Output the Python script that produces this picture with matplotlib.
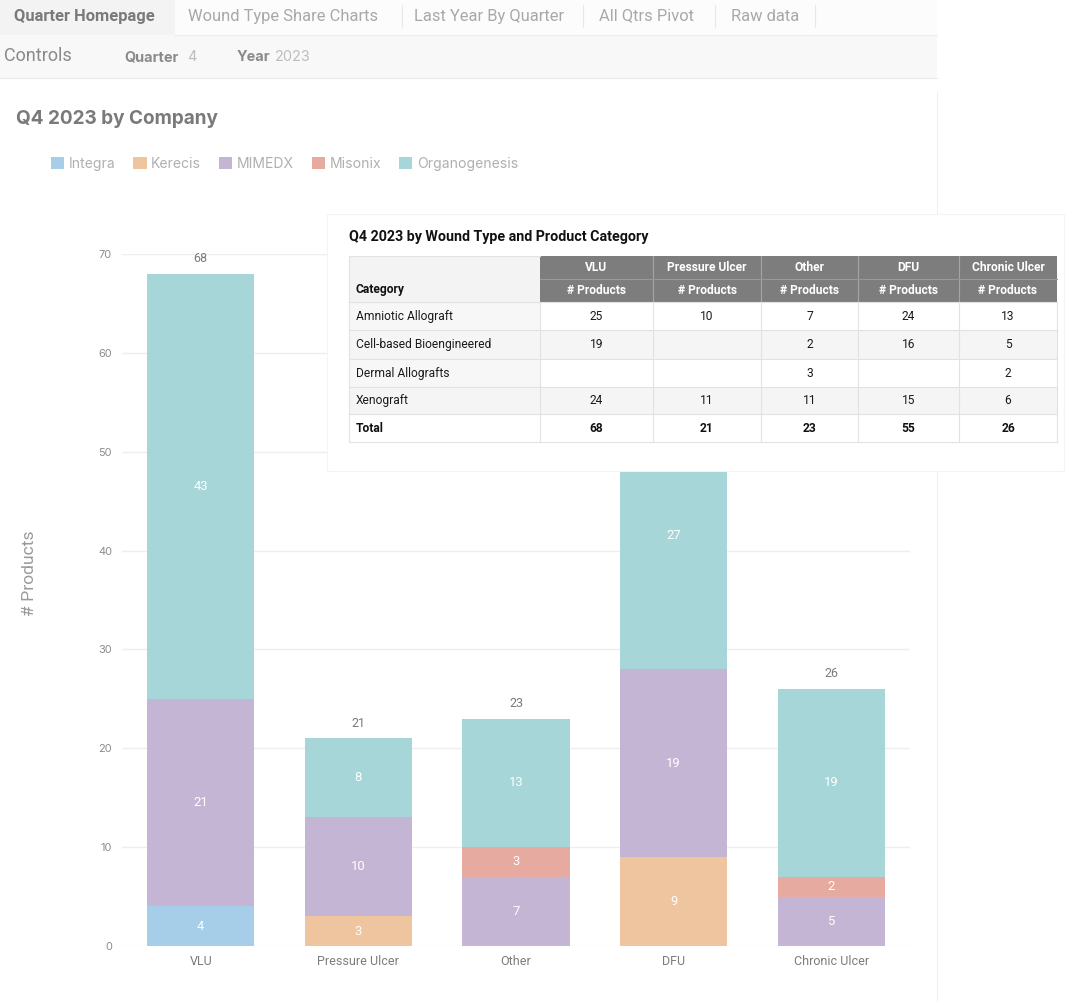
import matplotlib
matplotlib.use('Agg')
import matplotlib.pyplot as plt
from matplotlib.patches import Rectangle, Patch
import numpy as np

W, H = 1082, 1005

# ---------------- data ----------------
wound_types = ['VLU', 'Pressure Ulcer', 'Other', 'DFU', 'Chronic Ulcer']
companies = ['Integra', 'Kerecis', 'MIMEDX', 'Misonix', 'Organogenesis']
integra = [4, 0, 0, 0, 0]
kerecis = [0, 3, 0, 9, 0]
mimedx = [21, 10, 7, 19, 5]
misonix = [0, 0, 3, 0, 2]
organogenesis = [43, 8, 13, 27, 19]
company_colors = ['#a6cee9', '#eec59e', '#c5b5d4', '#e7aaa0', '#a7d6d8']
y_ticks = [0, 10, 20, 30, 40, 50, 60, 70]

table_categories = ['Amniotic Allograft', 'Cell-based Bioengineered', 'Dermal Allografts', 'Xenograft']
amniotic = [25, 10, 7, 24, 13]
cell_based = [19, None, 2, 16, 5]
dermal = [None, None, 3, None, 2]
xenograft = [24, 11, 11, 15, 6]
table_totals = [68, 21, 23, 55, 26]

tabs = ['Quarter Homepage', 'Wound Type Share Charts', 'Last Year By Quarter', 'All Qtrs Pivot', 'Raw data']

# ---------------- figure ----------------
fig = plt.figure(figsize=(W / 100, H / 100), dpi=100)
fig.patch.set_facecolor('white')

def px_axes(z):
    a = fig.add_axes([0, 0, 1, 1])
    a.set_xlim(0, W)
    a.set_ylim(H, 0)
    a.axis('off')
    a.set_zorder(z)
    a.patch.set_alpha(0)
    return a

bg = px_axes(0)
PT = 0.72  # px -> pt

# top tab bar
bg.add_patch(Rectangle((0, 0), 937, 35, facecolor='#fcfcfc', edgecolor='none'))
bg.add_patch(Rectangle((0, 0), 175, 35, facecolor='#f3f3f3', edgecolor='none'))
bg.plot([175, 937], [35, 35], color='#eeeeee', lw=0.8)
tab_x = [14, 188, 414, 599, 731]
for i, (t, xx) in enumerate(zip(tabs, tab_x)):
    bg.text(xx, 16, t, fontsize=16.5 * PT, family='Roboto',
            fontweight='bold' if i == 0 else 'normal',
            color='#7a7a7a' if i == 0 else '#a8a8a8', va='center', ha='left')
for sx in [402, 583, 715, 815]:
    bg.plot([sx, sx], [5, 27], color='#e8e8e8', lw=0.8)

# controls row
bg.add_patch(Rectangle((0, 35), 937, 43, facecolor='#f8f8f8', edgecolor='none'))
bg.plot([0, 937], [78, 78], color='#ebebeb', lw=0.8)
bg.text(4, 56, 'Controls', fontsize=18 * PT, family='Roboto', color='#8a8a8a', va='center')
bg.text(124, 57, 'Quarter', fontsize=14.5 * PT, family='Inter', fontweight='bold', color='#8a8a8a', va='center')
bg.text(187, 57, '4', fontsize=14.5 * PT, family='Inter', color='#bdbdbd', va='center')
bg.text(237, 57, 'Year', fontsize=14.5 * PT, family='Inter', fontweight='bold', color='#8a8a8a', va='center')
bg.text(275, 57, '2023', fontsize=14.5 * PT, family='Inter', color='#bdbdbd', va='center')

# card border
bg.plot([937, 937], [92, 1000], color='#f0f0f0', lw=0.8)

# chart title
bg.text(16, 119, 'Q4 2023 by Company', fontsize=19 * PT, family='Inter', fontweight='bold',
        color='#7a7a7a', va='center')

# ---------------- bar chart ----------------
ax = fig.add_axes([122 / W, (H - 946) / H, 788 / W, 692 / H])
ax.set_zorder(1)
ax.patch.set_alpha(0)
x = np.arange(len(wound_types))
bottom = np.zeros(len(wound_types))
handles = []
for name, vals, col in zip(companies, [integra, kerecis, mimedx, misonix, organogenesis], company_colors):
    vals = np.array(vals, dtype=float)
    bars = ax.bar(x, vals, 0.68, bottom=bottom, color=col, label=name, zorder=2)
    ax.bar_label(bars, labels=[str(int(v)) if v > 0 else '' for v in vals],
                 label_type='center', color='white', fontsize=13 * PT, family='Roboto')
    handles.append(Patch(facecolor=col, edgecolor='none'))
    bottom += vals
for xi, t in zip(x, bottom):
    ax.annotate(str(int(t)), (xi, t), xytext=(0, 15 * PT), textcoords='offset points',
                ha='center', va='center', color='#7a7a7a', fontsize=12.5 * PT, family='Roboto')

ax.set_xlim(-0.5, 4.5)
ax.set_ylim(0, 70)
ax.set_yticks(y_ticks)
ax.set_yticklabels([str(v) for v in y_ticks], family='Inter', fontsize=11 * PT, color='#8c8c8c')
ax.set_xticks(x)
ax.set_xticklabels(wound_types, family='Roboto', fontsize=12.5 * PT, color='#7c7c7c')
ax.tick_params(axis='both', length=0)
ax.tick_params(axis='y', pad=10 * PT)
ax.tick_params(axis='x', pad=9 * PT)
ax.yaxis.grid(True, color='#eeeeee', lw=1)
ax.set_axisbelow(True)
for s in ax.spines.values():
    s.set_visible(False)
ax.set_ylabel('# Products', family='Roboto', fontsize=17.5 * PT, color='#9a9a9a')
ax.yaxis.set_label_coords((37 - 122) / 788, (946 - 573) / 692)

# legend
fig.legend(handles, companies, loc='center left', bbox_to_anchor=(51 / W, 1 - 164 / H),
           ncol=5, frameon=False, prop={'family': 'Inter', 'size': 14 * PT},
           labelcolor='#b0b0b0', handlelength=0.95, handleheight=0.95,
           handletextpad=0.3, columnspacing=1.3, borderpad=0, borderaxespad=0)

# ---------------- overlay table card ----------------
ov = px_axes(3)
ov.add_patch(Rectangle((327, 214), 737, 257, facecolor='white', edgecolor='#f4f4f4', lw=0.8))
ov.text(349, 237, 'Q4 2023 by Wound Type and Product Category', fontsize=14.2 * PT,
        family='Roboto', fontweight='bold', color='#111111', va='center')

col_edges = [349, 540, 653, 761, 858, 959, 1057]
hdr_top, hdr_mid, hdr_bot = 256, 279, 302
row_edges = [302, 330, 359, 387, 414, 442]
grid_c = '#e2e2e2'
txt_fs = 12 * PT

# header
ov.add_patch(Rectangle((col_edges[0], hdr_top), col_edges[1] - col_edges[0], hdr_bot - hdr_top,
                       facecolor='#f3f3f3', edgecolor='none'))
ov.text(356, 289, 'Category', fontsize=txt_fs, family='Roboto', fontweight='bold',
        color='#111111', va='center')
for i, wt in enumerate(wound_types):
    x0, x1 = col_edges[i + 1], col_edges[i + 2]
    ov.add_patch(Rectangle((x0, hdr_top), x1 - x0, hdr_bot - hdr_top, facecolor='#7d7d7d',
                           edgecolor='none'))
    cx = (x0 + x1) / 2
    ov.text(cx, (hdr_top + hdr_mid) / 2, wt, fontsize=12 * PT, family='Roboto', fontweight='bold',
            color='white', ha='center', va='center')
    ov.text(cx, (hdr_mid + hdr_bot) / 2, '# Products', fontsize=12 * PT, family='Roboto',
            fontweight='bold', color='white', ha='center', va='center')
for xx in col_edges[2:-1]:
    ov.plot([xx, xx], [hdr_top, hdr_bot], color='#a5a5a5', lw=0.8)
ov.plot([col_edges[1], col_edges[-1]], [hdr_mid, hdr_mid], color='#999999', lw=0.8)

# body
rows = [amniotic, cell_based, dermal, xenograft]
for r, (cat, vals) in enumerate(zip(table_categories, rows)):
    y0, y1 = row_edges[r], row_edges[r + 1]
    if r % 2 == 1:
        ov.add_patch(Rectangle((col_edges[0], y0), col_edges[-1] - col_edges[0], y1 - y0,
                               facecolor='#f5f5f5', edgecolor='none'))
    else:
        ov.add_patch(Rectangle((col_edges[0], y0), col_edges[1] - col_edges[0], y1 - y0,
                               facecolor='#f7f7f7', edgecolor='none'))
    cy = (y0 + y1) / 2
    ov.text(356, cy, cat, fontsize=txt_fs, family='Roboto', color='#1a1a1a', va='center')
    for i, v in enumerate(vals):
        if v is None:
            continue
        ov.text((col_edges[i + 1] + col_edges[i + 2]) / 2, cy, str(v), fontsize=txt_fs,
                family='Roboto', color='#1a1a1a', ha='center', va='center')
# totals
y0, y1 = row_edges[4], row_edges[5]
cy = (y0 + y1) / 2
ov.text(356, cy, 'Total', fontsize=txt_fs, family='Roboto', fontweight='bold',
        color='#111111', va='center')
for i, v in enumerate(table_totals):
    ov.text((col_edges[i + 1] + col_edges[i + 2]) / 2, cy, str(v), fontsize=txt_fs,
            family='Roboto', fontweight='bold', color='#111111', ha='center', va='center')

# grid lines
for yy in row_edges:
    ov.plot([col_edges[0], col_edges[-1]], [yy, yy], color=grid_c, lw=0.8)
for xx in col_edges:
    ov.plot([xx, xx], [row_edges[0], row_edges[-1]], color=grid_c, lw=0.8)
ov.plot([col_edges[0], col_edges[0]], [hdr_top, hdr_bot], color=grid_c, lw=0.8)
ov.plot([col_edges[0], col_edges[1]], [hdr_top, hdr_top], color=grid_c, lw=0.8)

fig.savefig('out.png', dpi=100, facecolor='white')
